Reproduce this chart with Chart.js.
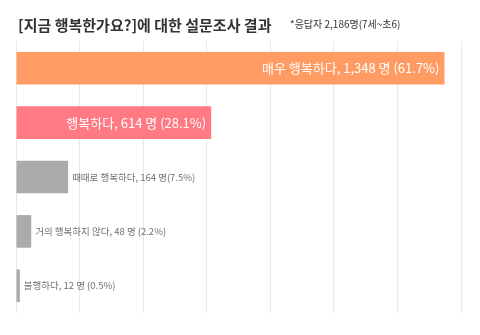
<!DOCTYPE html>
<html>
<head>
<meta charset="utf-8">
<script src="https://cdn.jsdelivr.net/npm/chart.js@4"></script>
<style>
  html, body { margin: 0; padding: 0; background: #fff; }
  #wrap { position: relative; width: 480px; height: 335px; }
</style>
</head>
<body>
<div id="wrap"><canvas id="chart" width="480" height="335"></canvas></div>
<script>
// survey data
var titleText = '[지금 행복한가요?]에 대한 설문조사 결과';
var noteText = '*응답자 2,186명(7세~초6)';
var categories = ['매우 행복하다', '행복하다', '때때로 행복하다', '거의 행복하지 않다', '불행하다'];
var counts = [1348, 614, 164, 48, 12];
var labels = ['매우 행복하다, 1,348 명 (61.7%)', '행복하다, 614 명 (28.1%)', '때때로 행복하다, 164 명(7.5%)', '거의 행복하지 않다, 48 명 (2.2%)', '불행하다, 12 명 (0.5%)'];
var barColors = ['#ff9b63', '#ff7a82', '#ababab', '#ababab', '#ababab'];
var xMax = 1400;
var xStep = 200;

var FONT = '"Noto Sans CJK KR", "Noto Sans", sans-serif';

var textPlugin = {
  id: 'textPlugin',
  afterDraw: function(chart) {
    var ctx = chart.ctx;
    ctx.save();
    // title + note
    ctx.textBaseline = 'alphabetic';
    ctx.textAlign = 'left';
    ctx.fillStyle = '#333';
    ctx.font = 'bold 15px ' + FONT;
    ctx.fillText(titleText, 18, 31);
    ctx.font = '10px ' + FONT;
    ctx.fillText(noteText, 290, 28);

    // bar labels
    var meta = chart.getDatasetMeta(0);
    meta.data.forEach(function(bar, i) {
      ctx.textBaseline = 'middle';
      if (i < 2) {
        ctx.font = '13px ' + FONT;
        ctx.fillStyle = '#fff';
        ctx.textAlign = 'right';
        ctx.fillText(labels[i], bar.x - 5, bar.y);
      } else {
        ctx.font = '9.5px ' + FONT;
        ctx.fillStyle = '#707070';
        ctx.textAlign = 'left';
        ctx.fillText(labels[i], bar.x + 4, bar.y);
      }
    });
    ctx.restore();
  }
};

new Chart(document.getElementById('chart'), {
  type: 'bar',
  data: {
    labels: categories,
    datasets: [{
      data: counts,
      backgroundColor: barColors,
      borderWidth: 0,
      barPercentage: 0.6,
      categoryPercentage: 1.0
    }]
  },
  options: {
    indexAxis: 'y',
    responsive: false,
    animation: false,
    layout: { padding: { left: 16, right: 19, top: 41, bottom: 22 } },
    plugins: {
      legend: { display: false },
      title: { display: false },
      tooltip: { enabled: false }
    },
    scales: {
      x: {
        min: 0,
        max: xMax,
        ticks: { display: false, stepSize: xStep },
        grid: { color: '#e8e8e8', drawTicks: false },
        border: { display: false }
      },
      y: {
        display: false,
        grid: { display: false }
      }
    }
  },
  plugins: [textPlugin]
});
</script>
</body>
</html>
